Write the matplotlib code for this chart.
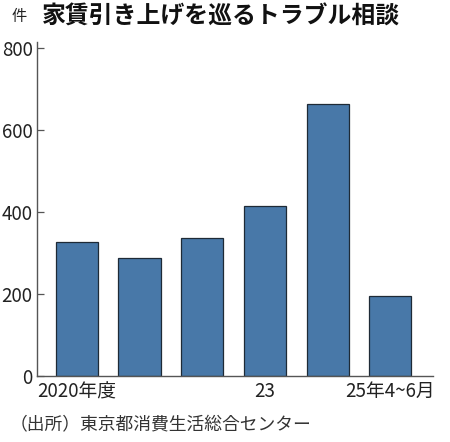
import matplotlib.pyplot as plt

plt.rcParams['font.family'] = ['Noto Sans CJK JP', 'DejaVu Sans']

# data
years = ['2020', '2021', '2022', '2023', '2024', '2025Q']
counts = [327, 288, 337, 415, 663, 194]
tick_pos = [0, 3, 5]
tick_labels = ['2020年度', '23', '25年4~6月']

fig = plt.figure(figsize=(4.5, 4.42), dpi=100)
ax = fig.add_axes([0.0816, 0.150, 0.8813, 0.755])

x = range(len(counts))
ax.bar(x, counts, width=0.67, color='#4878a8', edgecolor='#1e2a36', linewidth=0.9)

ax.set_xlim(-0.638, 5.683)
ax.set_ylim(0, 815)
ax.set_yticks([0, 200, 400, 600, 800])
ax.set_xticks(tick_pos)
ax.set_xticklabels(tick_labels)

for s in ['top', 'right']:
    ax.spines[s].set_visible(False)
for s in ['left', 'bottom']:
    ax.spines[s].set_color('#555555')
    ax.spines[s].set_linewidth(1.0)

ax.tick_params(axis='y', direction='in', length=5, width=0.9, color='#555555', pad=3)
ax.tick_params(axis='x', length=0, pad=4)
for lab in ax.get_yticklabels() + ax.get_xticklabels():
    lab.set_fontsize(13.5)
    lab.set_color('#222222')

fig.text(0.025, 0.963, '件', fontsize=11, va='center', ha='left', color='#222222')
fig.text(0.094, 0.963, '家賃引き上げを巡るトラブル相談', fontsize=17.2,
         fontweight='bold', va='center', ha='left', color='#111111')
fig.text(0.022, 0.038, '（出所）東京都消費生活総合センター', fontsize=12.8,
         va='center', ha='left', color='#333333')

fig.savefig('out.png', dpi=100, facecolor='white')
